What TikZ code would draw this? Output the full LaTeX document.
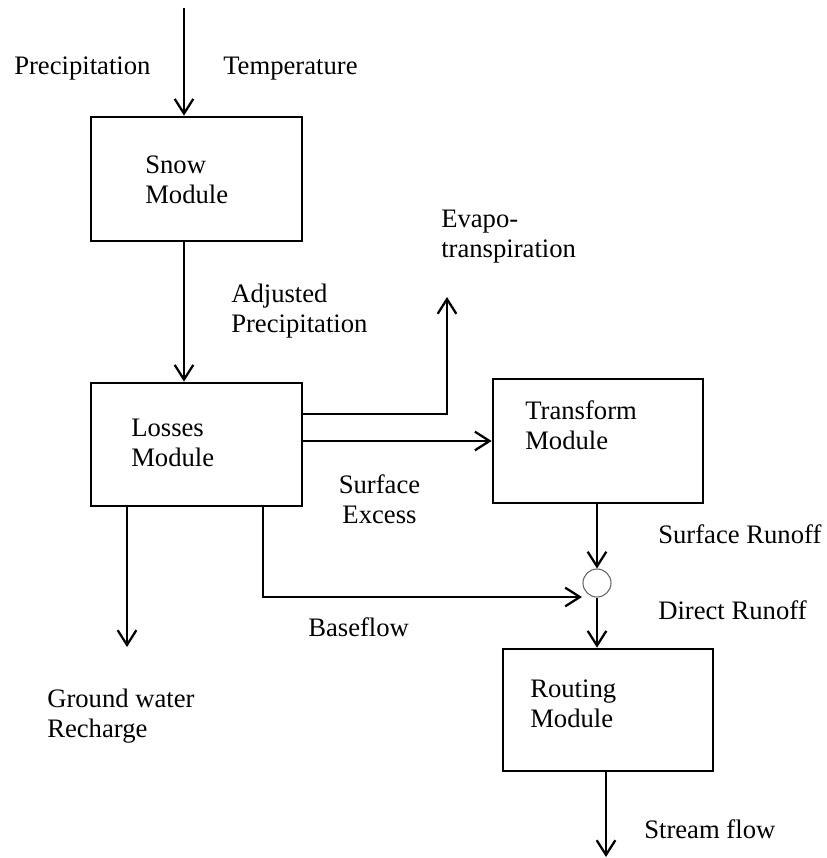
\documentclass[tikz,border=0pt]{standalone}
\usepackage{fontspec}
\setmainfont{Liberation Serif}
\usetikzlibrary{arrows.meta}
\begin{document}
\begin{tikzpicture}[x=0.75pt,y=-0.75pt,
  box/.style={draw, line width=2pt, rectangle, inner sep=0pt},
  junction/.style={draw=black!60, line width=0.8pt, circle, inner sep=0pt, minimum size=21pt},
  lbl/.style={anchor=base west, inner sep=0pt, align=left, font=\fontsize{20}{22.5}\selectfont},
  clbl/.style={anchor=base, inner sep=0pt, align=center, font=\fontsize{20}{22.5}\selectfont},
  arr/.style={line width=1.7pt, -{Straight Barb[length=11pt,width=14pt,line width=1.7pt]}}]
\useasboundingbox (0,0) rectangle (826,858);

% boxes
\node[box, minimum width=158.25pt, minimum height=93pt] (snow) at (196.5,179) {};
\node[box, minimum width=158.25pt, minimum height=92.25pt] (losses) at (196.5,444.5) {};
\node[box, minimum width=157.5pt, minimum height=93pt] (transform) at (598,441) {};
\node[box, minimum width=157.5pt, minimum height=91.5pt] (routing) at (608,710) {};
\node[junction] (junc) at (597,583) {};

% box texts (anchor = baseline of the last line)
\node[lbl] (snowtxt) at (145,203) {Snow\\Module};
\node[lbl] (losstxt) at (131,466) {Losses\\Module};
\node[lbl] (transtxt) at (525,449) {Transform\\Module};
\node[lbl] (routtxt) at (530,727) {Routing\\Module};

% labels
\node[lbl] (precip) at (14,74) {Precipitation};
\node[lbl] (temp) at (223,74) {Temperature};
\node[lbl] (adjp) at (231,332) {Adjusted\\Precipitation};
\node[lbl] (evapo) at (441,257) {Evapo-\\transpiration};
\node[clbl] (surfex) at (379.5,523) {Surface\\Excess};
\node[lbl] (surfrun) at (658,543) {Surface Runoff};
\node[lbl] (dirrun) at (658,619) {Direct Runoff};
\node[lbl] (basef) at (308,636) {Baseflow};
\node[lbl] (gwr) at (47,737) {Ground water\\Recharge};
\node[lbl] (strf) at (644,838) {Stream flow};

% coordinates
\coordinate (pin) at (184,8);
\coordinate (evtop) at (447,297);
\coordinate (evcorner) at (447,414);
\coordinate (bfcorner) at (263,597);
\coordinate (bftip) at (582,597);
\coordinate (gwend) at (127,647);
\coordinate (sfend) at (606,857);

% connectors
\draw[arr] (pin) -- (pin |- snow.north);
\draw[arr] (snow.south -| pin) -- (losses.north -| pin);
\draw[arr] (losses.east |- evcorner) -- (evcorner) -- (evtop);
\draw[arr] (losses.east |- transform.west) -- (transform.west);
\draw[arr] (transform.south -| junc.north) -- (junc.north);
\draw[arr] (losses.south -| bfcorner) -- (bfcorner) -- (bftip);
\draw[arr] (losses.south -| gwend) -- (gwend);
\draw[arr] (junc.south) -- (routing.north -| junc.south);
\draw[arr] (routing.south -| sfend) -- (sfend);
\end{tikzpicture}
\end{document}
